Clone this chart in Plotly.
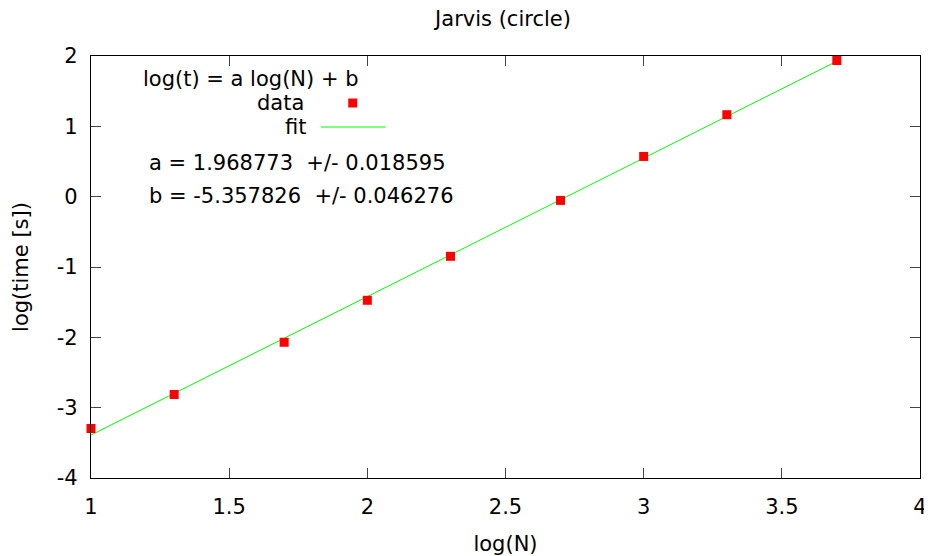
import plotly.graph_objects as go

# data
log_n = [1.0, 1.301, 1.699, 2.0, 2.301, 2.699, 3.0, 3.301, 3.699]
log_t = [-3.296, -2.813, -2.07, -1.473, -0.848, -0.053, 0.572, 1.165, 1.936]
fit_a = 1.968773
fit_a_err = 0.018595
fit_b = -5.357826
fit_b_err = 0.046276
fit_x = [1.0, 3.699]
fit_y = [fit_a * x + fit_b for x in fit_x]

x_ticks = [1, 1.5, 2, 2.5, 3, 3.5, 4]
x_ticktext = ["1", "1.5", "2", "2.5", "3", "3.5", "4"]
y_ticks = [-4, -3, -2, -1, 0, 1, 2]
y_ticktext = ["-4", "-3", "-2", "-1", "0", "1", "2"]

FONT = "DejaVu Sans"
FS = 21
W, H = 932, 556
OFF = 8  # page body margin
X0, X1, Y0, Y1 = 87, 920, 56, 478  # plot area on screen
L, T = X0 - OFF, Y0 - OFF
R, B = W - (X1 - OFF), H - (Y1 - OFF)

def px(x):
    return (x - X0) / (X1 - X0)

def py(y):
    return (Y1 - y) / (Y1 - Y0)

fig = go.Figure()
fig.add_trace(go.Scatter(x=fit_x, y=fit_y, mode="lines",
                         line=dict(color="#00ff00", width=1), showlegend=False))
fig.add_trace(go.Scatter(x=log_n, y=log_t, mode="markers", cliponaxis=False,
                         marker=dict(symbol="square", size=9, color="#ff0000",
                                     line=dict(width=0)), showlegend=False))

nb = "\u00a0"
anns = [
    dict(text="log(t) = a log(N) + b", x=px(248), y=py(79), xanchor="center"),
    dict(text="data", x=px(303), y=py(103), xanchor="right"),
    dict(text="fit", x=px(305), y=py(127), xanchor="right"),
    dict(text=f"a = {fit_a:.6f}{nb}{nb}+/- {fit_a_err:.6f}", x=px(143), y=py(163), xanchor="left"),
    dict(text=f"b = {fit_b:.6f}{nb}{nb}+/- {fit_b_err:.6f}", x=px(143), y=py(196), xanchor="left"),
]
for a in anns:
    fig.add_annotation(xref="paper", yref="paper", yanchor="middle", showarrow=False,
                       font=dict(family=FONT, size=FS, color="black"), **a)

fig.add_shape(type="rect", xref="paper", yref="paper",
              x0=px(345.5), x1=px(354.5), y0=py(98.5), y1=py(107.5),
              fillcolor="#ff0000", line=dict(width=0))
fig.add_shape(type="line", xref="paper", yref="paper",
              x0=px(318), x1=px(383), y0=py(127), y1=py(127),
              line=dict(color="#00ff00", width=1))

axis_common = dict(showline=True, linecolor="black", linewidth=1.2, mirror="allticks",
                   ticks="inside", ticklen=10, tickcolor="#444", tickwidth=1,
                   showgrid=False, zeroline=False,
                   tickfont=dict(family=FONT, size=FS, color="black"))

fig.update_layout(
    width=W, height=H,
    margin=dict(l=L, r=R, t=T, b=B),
    paper_bgcolor="white", plot_bgcolor="white",
    title=dict(text="Jarvis (circle)", x=(503 - OFF) / W, xanchor="center",
               y=1 - (19 - OFF) / H, yanchor="middle",
               font=dict(family=FONT, size=FS, color="black")),
    xaxis=dict(range=[1, 4], tickvals=x_ticks, ticktext=x_ticktext,
               title=dict(text="log(N)", font=dict(family=FONT, size=FS, color="black"), standoff=18),
               ticklabelstandoff=10, **axis_common),
    yaxis=dict(range=[-4, 2], tickvals=y_ticks, ticktext=y_ticktext,
               title=dict(text="log(time [s])", font=dict(family=FONT, size=FS, color="black"), standoff=22),
               ticklabelstandoff=8, **axis_common),
)

fig.write_html("out.html")
